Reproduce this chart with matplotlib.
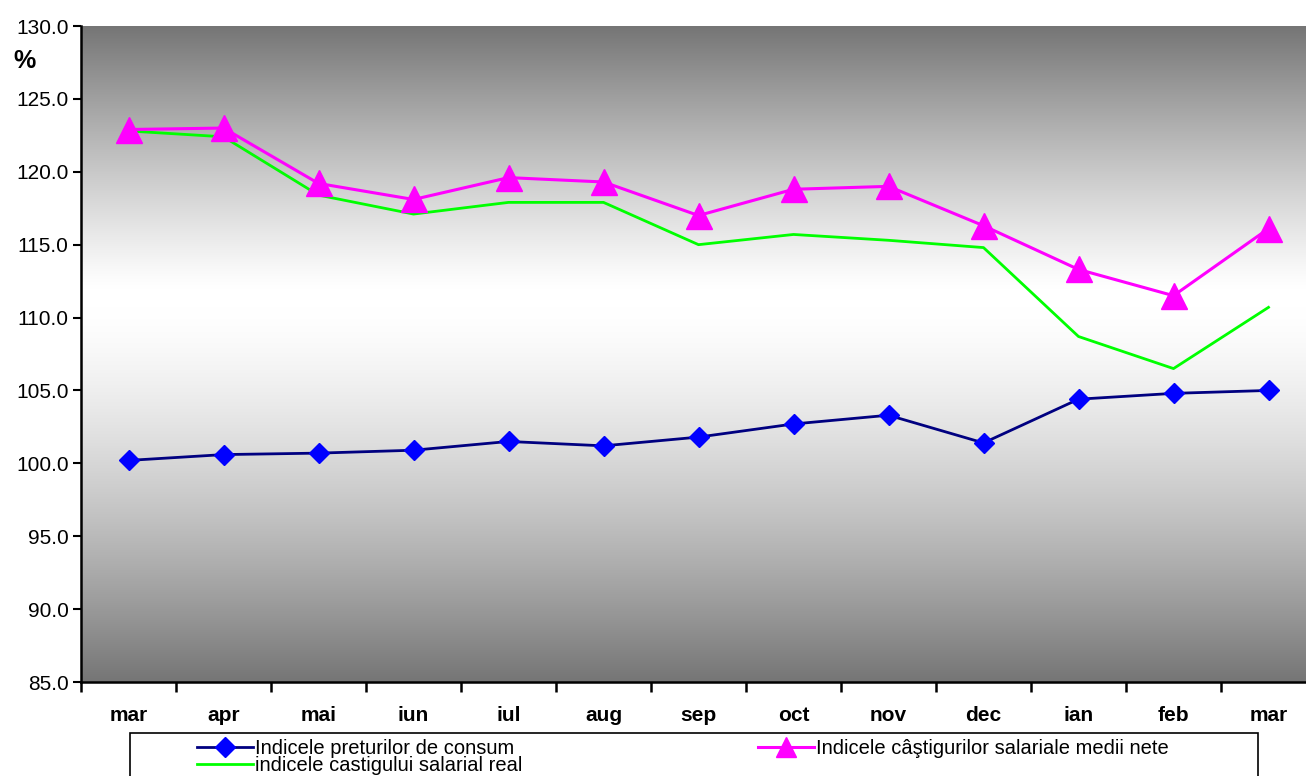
import numpy as np
import matplotlib
matplotlib.use('Agg')
import matplotlib.pyplot as plt
from matplotlib.patches import Rectangle
from matplotlib.lines import Line2D

months = ['mar', 'apr', 'mai', 'iun', 'iul', 'aug', 'sep', 'oct', 'nov',
          'dec', 'ian', 'feb', 'mar']

# consumer price index
cpi = [100.2, 100.6, 100.7, 100.9, 101.5, 101.2, 101.8, 102.7, 103.3,
       101.4, 104.4, 104.8, 105.0]
# net average wage earnings index
wage_nom = [122.9, 123.0, 119.2, 118.1, 119.6, 119.3, 117.0, 118.8, 119.0,
            116.3, 113.3, 111.5, 116.1]
# real wage index
wage_real = [122.8, 122.4, 118.4, 117.1, 117.9, 117.9, 115.0, 115.7, 115.3,
             114.8, 108.7, 106.5, 110.7]

LBL_CPI = 'Indicele preturilor de consum'
LBL_NOM = 'Indicele câştigurilor salariale medii nete'
LBL_REAL = 'indicele castigului salarial real'

NAVY = '#000080'
BLUE = '#0000FF'
MAGENTA = '#FF00FF'
GREEN = '#00FF00'

plt.rcParams['font.family'] = ['Liberation Sans', 'DejaVu Sans']

W, H = 1306, 776
fig = plt.figure(figsize=(W / 100, H / 100), dpi=100)
ax = fig.add_axes([81 / W, (H - 682) / H, 1235 / W, 656 / H])

# background gradient: grey at top and bottom, white a bit above the middle
t = np.linspace(0, 1, 500)
top_part = np.clip((0.40 - t) / 0.40, 0, 1) ** 1.15
bot_part = np.clip((t - 0.43) / 0.57, 0, 1) ** 1.4
shade = 1 - 0.54 * np.maximum(top_part, bot_part)
grad = np.dstack([shade, shade, shade])[0][:, None, :]
ax.imshow(grad, extent=[0, 13, 85, 130], aspect='auto', zorder=0,
          interpolation='bilinear', origin='upper')

x = np.arange(len(months)) + 0.5
ax.plot(x, wage_real, color=GREEN, lw=2, zorder=2)
ax.plot(x, wage_nom, color=MAGENTA, lw=2.2, marker='^', ms=19,
        mfc=MAGENTA, mec=MAGENTA, zorder=3)
ax.plot(x, cpi, color=NAVY, lw=2, marker='D', ms=10,
        mfc=BLUE, mec=BLUE, zorder=4)

ax.set_xlim(0, 13)
ax.set_ylim(85, 130)
ax.set_yticks(np.arange(85, 131, 5))
ax.set_yticklabels([f'{v:.1f}' for v in np.arange(85, 131, 5)], fontsize=15)
ax.tick_params(axis='y', length=6, width=1.5, direction='out', pad=3)

ax.set_xticks(np.arange(0, 14))
ax.set_xticklabels([])
ax.tick_params(axis='x', which='major', length=7, width=1.8, direction='out')
ax.set_xticks(x, minor=True)
ax.set_xticklabels(months, minor=True, fontsize=15, fontweight='bold')
ax.tick_params(axis='x', which='minor', length=0, pad=17.5)

for s in ['top', 'right']:
    ax.spines[s].set_visible(False)
for s in ['left', 'bottom']:
    ax.spines[s].set_linewidth(1.8)

fig.text(24 / W, 1 - 61 / H, '%', fontsize=18, fontweight='bold',
         ha='center', va='center')

# legend frame and entries
fig.add_artist(Rectangle((130 / W, -0.05), 1128 / W, 0.05 + (776 - 733) / H,
                         transform=fig.transFigure, fill=False,
                         edgecolor='black', lw=1.2))
h_cpi = Line2D([], [], color=NAVY, lw=2, marker='D', ms=10, mfc=BLUE, mec=BLUE)
h_real = Line2D([], [], color=GREEN, lw=2)
h_nom = Line2D([], [], color=MAGENTA, lw=2.2, marker='^', ms=15,
               mfc=MAGENTA, mec=MAGENTA)
fig.legend([h_cpi, h_real], [LBL_CPI, LBL_REAL], loc='upper left',
           bbox_to_anchor=(197 / W, 1 - 739 / H), frameon=False,
           fontsize=14.5, handlelength=2.8, handletextpad=0.1,
           labelspacing=-0.1, borderpad=0, borderaxespad=0)
fig.legend([h_nom], [LBL_NOM], loc='upper left',
           bbox_to_anchor=(758 / W, 1 - 739 / H), frameon=False,
           fontsize=14.5, handlelength=2.8, handletextpad=0.1,
           borderpad=0, borderaxespad=0)

fig.savefig('out.png', dpi=100)
